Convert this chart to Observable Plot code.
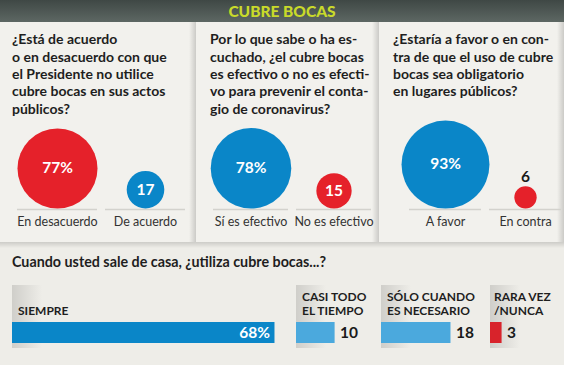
<!DOCTYPE html>
<html><head><meta charset="utf-8">
<script src="https://cdn.jsdelivr.net/npm/d3@7"></script>
<script src="https://cdn.jsdelivr.net/npm/@observablehq/plot@0.6"></script>
<style>
html,body{margin:0;padding:0;background:#eeede8;}
#root{position:relative;width:564px;height:365px;overflow:hidden;font-family:Lato,sans-serif;}
#root > svg{position:absolute;}
</style></head><body><div id="root"></div>
<script>
// ---------------- data ----------------
const title = "CUBRE BOCAS";
const questions = [
  ["¿Está de acuerdo", "o en desacuerdo con que", "el Presidente no utilice", "cubre bocas en sus actos", "públicos?"],
  ["Por lo que sabe o ha es-", "cuchado, ¿el cubre bocas", "es efectivo o no es efecti-", "vo para prevenir el conta-", "gio de coronavirus?"],
  ["¿Estaría a favor o en con-", "tra de que el uso de cubre", "bocas sea obligatorio", "en lugares públicos?"]
];
const answers = [["En desacuerdo", "De acuerdo"], ["Sí es efectivo", "No es efectivo"], ["A favor", "En contra"]];
const stances = [["contra", "favor"], ["favor", "contra"], ["favor", "contra"]];
const percents = [[77, 17], [78, 15], [93, 6]];
const usageQuestion = "Cuando usted sale de casa, ¿utiliza cubre bocas...?";
const usageLabels = [["SIEMPRE"], ["CASI TODO", "EL TIEMPO"], ["SÓLO CUANDO", "ES NECESARIO"], ["RARA VEZ", "/NUNCA"]];
const usageValues = [68, 10, 18, 3];

// ---------------- layout & style ----------------
const W = 564, H = 365;
const BLUE = "#0a86c8", RED = "#e5212a", LIGHTBLUE = "#4ba9dd", BARRED = "#d8232b";
const FONT = "Lato, sans-serif";
const panels = [
  {x: 0, w: 196, tx: 12, centers: [57, 145]},
  {x: 196, w: 183, tx: 210, centers: [54, 137]},
  {x: 379, w: 185, tx: 393, centers: [66, 146]}
];
const panelTop = 22, panelBottom = 242;
const cards = [{x: 12, w: 284}, {x: 296, w: 85}, {x: 381, w: 109}, {x: 490, w: 74}];
const barColors = [BLUE, LIGHTBLUE, LIGHTBLUE, BARRED];

const root = document.getElementById("root");
const svg = d3.select(root).append("svg").attr("width", W).attr("height", H).style("left", 0).style("top", 0);
const defs = svg.append("defs");
const hg = defs.append("linearGradient").attr("id", "hdr").attr("x1", 0).attr("y1", 0).attr("x2", 0).attr("y2", 1);
hg.append("stop").attr("offset", 0).attr("stop-color", "#3f4845");
hg.append("stop").attr("offset", 1).attr("stop-color", "#5d6763");
const sr = defs.append("linearGradient").attr("id", "shR").attr("x1", 0).attr("x2", 1).attr("y1", 0).attr("y2", 0);
sr.append("stop").attr("offset", 0).attr("stop-color", "#000").attr("stop-opacity", 0);
sr.append("stop").attr("offset", 1).attr("stop-color", "#000").attr("stop-opacity", 0.16);
const sb = defs.append("linearGradient").attr("id", "shB").attr("x1", 0).attr("x2", 0).attr("y1", 0).attr("y2", 1);
sb.append("stop").attr("offset", 0).attr("stop-color", "#000").attr("stop-opacity", 0.14);
sb.append("stop").attr("offset", 1).attr("stop-color", "#000").attr("stop-opacity", 0);
const cs = defs.append("linearGradient").attr("id", "card").attr("x1", 0).attr("x2", 1).attr("y1", 0).attr("y2", 0);
cs.append("stop").attr("offset", 0).attr("stop-color", "#000").attr("stop-opacity", 0.13);
cs.append("stop").attr("offset", 1).attr("stop-color", "#000").attr("stop-opacity", 0);

svg.append("rect").attr("width", W).attr("height", H).attr("fill", "#eeede8");
// panels
panels.forEach(p => {
  svg.append("rect").attr("x", p.x).attr("y", panelTop).attr("width", p.w).attr("height", panelBottom - panelTop).attr("fill", "#f2f1ed");
  svg.append("rect").attr("x", p.x + p.w - 7).attr("y", panelTop).attr("width", 7).attr("height", panelBottom - panelTop).attr("fill", "url(#shR)");
});
svg.append("rect").attr("x", 0).attr("y", panelBottom).attr("width", W).attr("height", 6).attr("fill", "url(#shB)");
// card shades
cards.forEach(c => {
  svg.append("rect").attr("x", c.x).attr("y", 285).attr("width", 30).attr("height", 63).attr("fill", "url(#card)");
});
// header
svg.append("rect").attr("width", W).attr("height", panelTop).attr("fill", "url(#hdr)");
svg.append("text").attr("x", 282).attr("y", 17.3).attr("text-anchor", "middle")
  .attr("font-family", FONT).attr("font-weight", 900).attr("font-size", 15.5).attr("fill", "#c9da2a").text(title);
// questions
questions.forEach((lines, i) => {
  const t = svg.append("text").attr("font-family", FONT).attr("font-weight", 700).attr("font-size", 14).attr("fill", "#1e1e1e");
  lines.forEach((l, j) => t.append("tspan").attr("x", panels[i].tx).attr("y", 44.3 + j * 17.3).text(l));
});
svg.append("text").attr("x", 12).attr("y", 267).attr("font-family", FONT).attr("font-weight", 700)
  .attr("font-size", 14.3).attr("fill", "#1e1e1e").text(usageQuestion);
// card labels
usageLabels.forEach((lines, i) => {
  const t = svg.append("text").attr("font-family", FONT).attr("font-weight", 700).attr("font-size", 12).attr("fill", "#1e1e1e");
  const n = lines.length;
  lines.forEach((l, j) => t.append("tspan").attr("x", cards[i].x + (i === 3 ? 4 : 6)).attr("y", 315 - (n - 1 - j) * 14).text(l));
});

// ---------------- circles (Plot) ----------------
const rMax = 45.6, base = 88, plotTop = 120;
percents.forEach((vals, i) => {
  const p = panels[i];
  const [c0, c1] = p.centers, s = c1 - c0;
  const data = vals.map((v, j) => ({answer: answers[i][j], stance: stances[i][j], value: v, label: j === 0 ? v + "%" : String(v)}));
  const inside = data.filter(d => rMax * Math.sqrt(d.value / 100) >= 14);
  const outside = data.filter(d => rMax * Math.sqrt(d.value / 100) < 14);
  const chart = Plot.plot({
    width: p.w, height: 115, margin: 0,
    style: {background: "transparent", overflow: "visible", fontFamily: FONT},
    x: {type: "band", domain: answers[i], range: [c0 - s / 2, c1 + s / 2], padding: 0, axis: null},
    y: {type: "linear", domain: [0, 10], range: [base, base - rMax], axis: null},
    r: {type: "sqrt", domain: [0, 100], range: [0, rMax]},
    color: {domain: ["favor", "contra"], range: [BLUE, RED]},
    marks: [
      Plot.tickY(data, {x: "answer", y: 0, dy: 1, stroke: "#d3d2cd", strokeWidth: 1.5, inset: 4}),
      Plot.dot(data, {x: "answer", y: d => Math.sqrt(d.value), r: "value", fill: "stance", stroke: null}),
      Plot.text(inside, {x: "answer", y: d => Math.sqrt(d.value), text: "label", fill: "white", fontWeight: 700, fontSize: 15.5}),
      Plot.text(outside, {x: "answer", y: d => 2 * Math.sqrt(d.value), text: "label", fill: "#1a1a1a", fontWeight: 700, fontSize: 15.5, dy: -9}),
      Plot.text(data, {x: "answer", y: 0, text: "answer", dy: 13, fontSize: 12.5, fill: "#333"})
    ]
  });
  chart.style.position = "absolute";
  chart.style.left = p.x + "px";
  chart.style.top = plotTop + "px";
  root.appendChild(chart);
});

// ---------------- bars (Plot) ----------------
const pxPerUnit = 3.86;
usageValues.forEach((v, i) => {
  const c = cards[i];
  const key = usageLabels[i].join(" ");
  const d = [{key, value: v}];
  const wide = v * pxPerUnit > 120;
  const chart = Plot.plot({
    width: c.w, height: 21, margin: 0,
    style: {background: "transparent", overflow: "visible", fontFamily: FONT},
    x: {domain: [0, 100], range: [0, 100 * pxPerUnit], axis: null},
    color: {domain: usageLabels.map(l => l.join(" ")), range: barColors},
    marks: [
      Plot.barX(d, {x: "value", fill: "key"}),
      Plot.text(d, {x: "value", text: e => wide ? e.value + "%" : String(e.value),
        textAnchor: wide ? "end" : "start", dx: wide ? -5 : 5,
        fill: wide ? "white" : "#1a1a1a", fontWeight: 700, fontSize: 15.5})
    ]
  });
  chart.style.position = "absolute";
  chart.style.left = c.x + "px";
  chart.style.top = "322px";
  root.appendChild(chart);
});
</script></body></html>
